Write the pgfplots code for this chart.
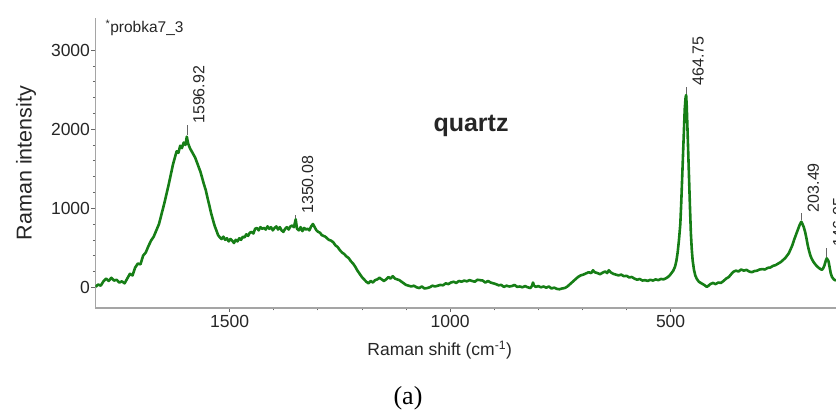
\documentclass[border=0pt]{standalone}
\usepackage{pgfplots}
\pgfplotsset{compat=1.18}
\usepackage{fontspec}
\setmainfont{Liberation Sans}
\newfontfamily\captionserif{Liberation Serif}
\definecolor{specgreen}{RGB}{22,126,22}
\definecolor{axgray}{RGB}{165,165,165}

% Raman spectrum of sample probka7_3 (shift in cm^-1, intensity in counts)
\pgfplotstableread{
shift intensity
1804 5
1798 35
1792 20
1786 75
1780 110
1774 80
1768 120
1762 85
1756 95
1750 60
1744 75
1738 50
1732 110
1726 170
1720 150
1714 250
1708 300
1702 290
1696 400
1690 440
1684 520
1678 590
1672 640
1666 720
1660 800
1654 930
1648 1060
1643 1180
1638 1300
1633 1430
1628 1560
1624 1640
1620 1720
1616 1700
1612 1790
1608 1760
1604 1830
1600 1800
1596.92 1904
1594 1820
1590 1760
1586 1720
1582 1680
1578 1640
1574 1580
1570 1520
1566 1460
1562 1380
1558 1300
1554 1230
1550 1130
1546 1040
1542 940
1538 860
1534 780
1530 720
1526 660
1522 630
1518 610
1514 640
1510 600
1506 620
1502 580
1498 610
1494 590
1490 560
1486 600
1482 580
1478 620
1474 600
1470 640
1466 630
1462 670
1458 650
1454 690
1450 700
1446 680
1442 740
1438 750
1434 720
1430 760
1426 740
1422 750
1418 730
1414 770
1410 740
1406 760
1402 720
1398 750
1394 770
1390 730
1386 760
1382 720
1378 700
1374 740
1370 760
1366 730
1362 770
1358 780
1354 760
1350.08 860
1347 740
1343 720
1339 760
1335 710
1331 750
1327 730
1323 740
1319 720
1315 770
1311 800
1307 760
1303 720
1299 700
1295 690
1291 660
1287 650
1283 640
1279 620
1275 600
1270 590
1265 570
1260 530
1255 510
1250 470
1245 440
1240 420
1235 390
1230 370
1225 330
1220 300
1215 260
1210 210
1205 170
1200 130
1195 100
1190 70
1185 50
1180 80
1175 60
1170 90
1165 100
1160 120
1155 100
1150 80
1145 100
1140 130
1135 110
1130 140
1125 110
1120 100
1115 90
1110 70
1105 50
1100 30
1094 20
1088 10
1082 20
1076 0
1070 -10
1064 10
1058 -15
1052 -10
1046 0
1040 20
1034 10
1028 20
1022 30
1016 25
1010 50
1004 40
998 60
992 70
986 55
980 80
974 70
968 85
962 75
956 90
950 80
944 70
938 95
932 90
926 85
920 60
914 80
908 60
902 50
896 40
890 25
884 30
878 5
872 20
866 10
860 15
854 30
848 5
842 10
836 0
830 15
824 0
818 -10
814 20
812 60
810 25
806 5
800 15
794 0
788 10
782 -5
776 10
770 -15
764 -5
758 -20
752 -25
746 -15
740 -10
734 10
728 40
722 70
716 100
710 130
704 150
698 160
692 175
686 190
680 180
676 215
672 190
666 180
660 165
654 185
648 200
644 180
640 215
636 190
630 170
624 160
618 150
612 160
606 140
600 145
594 125
588 130
582 110
576 95
570 105
564 85
558 90
552 80
546 95
540 85
534 100
528 90
522 105
516 100
510 115
506 130
502 150
498 180
494 210
490 260
487 330
484 440
481 600
478 800
476 1050
474 1350
472 1650
470 1950
468 2250
466 2400
464.75 2431
463.5 2300
462 2050
460 1700
458 1350
456 1000
454 680
452 480
450 340
447 220
444 150
441 110
436 70
430 50
424 30
418 5
414 20
410 40
404 55
398 40
392 60
386 55
380 80
374 110
368 130
362 170
358 195
352 210
346 200
340 225
334 210
328 220
322 200
316 190
310 205
304 210
298 225
292 230
286 225
280 245
274 250
268 270
262 280
256 300
250 320
245 345
240 370
236 400
232 430
228 480
224 530
220 600
216 660
212 720
208 780
205.5 810
203.49 829
201 800
198 760
195 700
192 620
189 530
186 460
183 400
180 360
176 320
172 290
168 265
164 245
160 230
157 220
154 240
151 280
148.5 330
146.05 366
144 350
142 330
140 270
137 180
134 130
130 100
127 90
125 85
}\spectrum

% peak positions: shift, top of curve, top of marker line
\pgfplotstableread{
shift top line
1596.92 1920 2052
1350.08 870 914
464.75 2445 2536
203.49 845 935
146.05 380 493
}\peaks

\begin{document}
\begin{tikzpicture}[x=1pt,y=1pt]
\begin{axis}[
  name=spec,
  scale only axis, width=740.5pt, height=290pt,
  x dir=reverse,
  xmin=125, xmax=1804, ymin=-262, ymax=3405,
  axis x line*=bottom, axis y line*=left,
  axis line style={-, draw=axgray, line width=1.8pt},
  xtick={500,1000,1500}, minor x tick num=4,
  ytick={0,1000,2000,3000}, minor y tick num=4,
  tick align=outside,
  major tick length=4pt, minor tick length=2.5pt,
  every tick/.style={draw=black!60, line width=0.6pt},
  tick label style={font=\fontsize{17.5}{20}\selectfont, text=black!85},
  yticklabel style={xshift=2pt},
  /pgf/number format/assume math mode=true,
  /pgf/number format/1000 sep={},
  xlabel={Raman shift (cm\textsuperscript{-1})},
  ylabel={Raman intensity},
  xlabel style={font=\fontsize{17.5}{20}\selectfont, text=black!85, xshift=-26pt, yshift=-6pt},
  ylabel style={font=\fontsize{21.5}{24}\selectfont, text=black!85},
  ylabel shift=8pt,
]
\addplot[specgreen, line width=2.6pt, line join=round] table[x=shift, y=intensity] {\spectrum};

\pgfplotsinvokeforeach{0,...,4}{%
  \pgfplotstablegetelem{#1}{shift}\of\peaks \let\pk\pgfplotsretval
  \pgfplotstablegetelem{#1}{top}\of\peaks \let\pktop\pgfplotsretval
  \pgfplotstablegetelem{#1}{line}\of\peaks \let\pkline\pgfplotsretval
  \edef\temp{\noexpand\draw[black!60, line width=0.6pt] (axis cs:\pk,\pktop) -- (axis cs:\pk,\pkline)
    node[rotate=90, anchor=north west, inner xsep=1pt, inner ysep=6pt,
         font=\noexpand\fontsize{16}{19}\noexpand\selectfont, text=black!85] {\pk};}
  \temp
}
\end{axis}

% everything below is placed relative to the lower left corner of the axis box
\begin{scope}[shift={(spec.south west)}]
\node[anchor=base west, font=\fontsize{15.5}{18}\selectfont, text=black!85] at (6.5,275) {\textsuperscript{*}probka7\_3};
\node[anchor=base, font=\bfseries\fontsize{25}{30}\selectfont, text=black!85] at (375.5,176) {quartz};
\node[anchor=base, font=\captionserif\fontsize{26}{30}\selectfont] at (312.5,-97) {(a)};
\pgfresetboundingbox
\path[use as bounding box] (-95.5,-104) rectangle (740.5,308);
\end{scope}
\end{tikzpicture}
\end{document}
